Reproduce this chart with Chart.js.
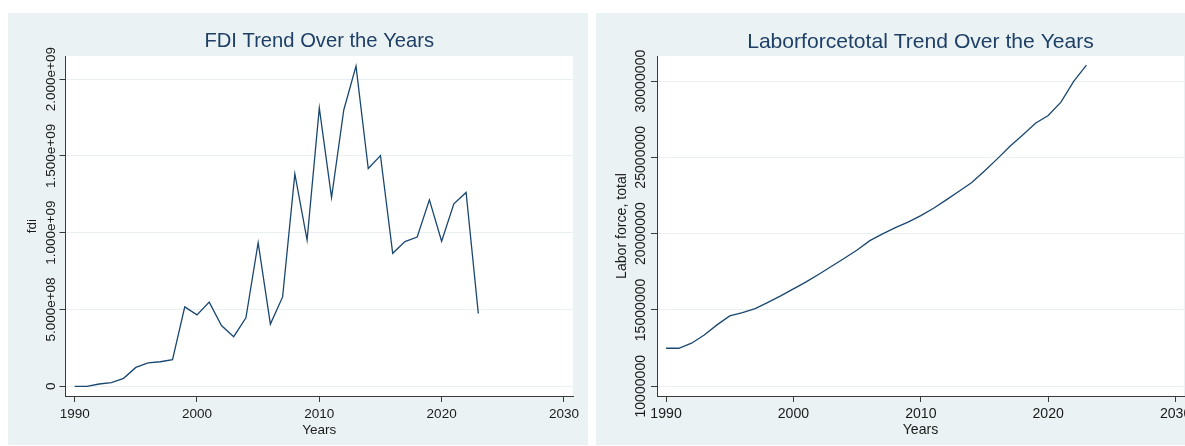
<!DOCTYPE html>
<html>
<head>
<meta charset="utf-8">
<script src="https://cdn.jsdelivr.net/npm/chart.js@4.4.1/dist/chart.umd.min.js"></script>
<style>
html,body{margin:0;padding:0;background:#ffffff;overflow:hidden;width:1185px;height:446px;}
.panel{position:absolute;background:#EAF2F3;}
#p1{left:8px;top:13px;width:580px;height:432px;}
#p2{left:596px;top:13px;width:603px;height:432px;}
canvas{display:block;}
</style>
</head>
<body>
<div class="panel" id="p1"><canvas id="c1" width="580" height="432"></canvas></div>
<div class="panel" id="p2"><canvas id="c2" width="603" height="432"></canvas></div>
<script>
// ---- data ----
const YEARS = [1990,1991,1992,1993,1994,1995,1996,1997,1998,1999,
               2000,2001,2002,2003,2004,2005,2006,2007,2008,2009,
               2010,2011,2012,2013,2014,2015,2016,2017,2018,2019,
               2020,2021,2022,2023];
const FDI = [0, 0, 15000000, 24000000, 52000000, 123000000, 152000000, 160000000, 173000000, 517000000,
             465000000, 548000000, 396000000, 323000000, 446000000, 935000000, 405000000, 582000000, 1383000000, 952000000,
             1812000000, 1229000000, 1799000000, 2084000000, 1418000000, 1502000000, 866000000, 942000000, 972000000, 1214000000,
             944000000, 1188000000, 1262000000, 474000000];
const LABOR = [12490000, 12490000, 12820000, 13360000, 14020000, 14610000, 14820000, 15090000, 15500000, 15920000,
               16380000, 16840000, 17340000, 17860000, 18390000, 18930000, 19540000, 19980000, 20390000, 20750000,
               21180000, 21660000, 22210000, 22780000, 23350000, 24100000, 24900000, 25730000, 26470000, 27240000,
               27740000, 28620000, 29980000, 31040000];
const X_TICKS = [1990, 2000, 2010, 2020, 2030];
const X_TICK_LABELS = ["1990", "2000", "2010", "2020", "2030"];
const FDI_TICKS = [0, 500000000, 1000000000, 1500000000, 2000000000];
const FDI_TICK_LABELS = ["0", "5.000e+08", "1.000e+09", "1.500e+09", "2.000e+09"];
const LABOR_TICKS = [10000000, 15000000, 20000000, 25000000, 30000000];
const LABOR_TICK_LABELS = ["10000000", "15000000", "20000000", "25000000", "30000000"];

const FONT = "'Liberation Sans', Arial, Helvetica, sans-serif";
const LINE_COLOR = '#1A476F';
const AXIS_COLOR = '#3a3a3a';
const GRID_COLOR = '#E8F0F2';
const TEXT_COLOR = '#1a1a1a';
const TITLE_COLOR = '#1E3F66';

function makeChart(canvasId, cfg) {
  const plotBg = {
    id: 'plotBg',
    beforeDraw(chart) {
      const a = chart.chartArea, ctx = chart.ctx;
      ctx.save();
      ctx.fillStyle = '#ffffff';
      ctx.fillRect(a.left, a.top, a.right - a.left, a.bottom - a.top);
      ctx.restore();
    }
  };
  const rotYLabels = {
    id: 'rotYLabels',
    afterDraw(chart) {
      const s = chart.scales.y, ctx = chart.ctx;
      ctx.save();
      ctx.fillStyle = TEXT_COLOR;
      ctx.font = cfg.tickFont + 'px ' + FONT;
      ctx.textAlign = 'center';
      ctx.textBaseline = 'alphabetic';
      cfg.yTicks.forEach((v, i) => {
        const y = s.getPixelForValue(v);
        ctx.save();
        ctx.translate(s.right - cfg.yLabelGap, y);
        ctx.rotate(-Math.PI / 2);
        ctx.fillText(cfg.yTickLabels[i], 0, 0);
        ctx.restore();
      });
      ctx.restore();
    }
  };
  return new Chart(document.getElementById(canvasId), {
    type: 'line',
    data: {
      datasets: [{
        data: YEARS.map((yr, i) => ({x: yr, y: cfg.values[i]})),
        borderColor: LINE_COLOR,
        borderWidth: 1.3,
        pointRadius: 0,
        tension: 0,
        fill: false
      }]
    },
    options: {
      responsive: false,
      animation: false,
      layout: {padding: {left: 0, right: cfg.rightPad, top: 0, bottom: 0}},
      plugins: {
        legend: {display: false},
        tooltip: {enabled: false},
        title: {
          display: true,
          text: cfg.title,
          fullSize: false,
          color: TITLE_COLOR,
          font: {family: FONT, size: cfg.titleFont, weight: 'normal', lineHeight: 1.2},
          padding: {top: cfg.titlePadTop, bottom: cfg.titlePadBottom}
        }
      },
      scales: {
        x: {
          type: 'linear',
          min: cfg.xMin, max: cfg.xMax,
          afterBuildTicks: s => { s.ticks = X_TICKS.map(v => ({value: v})); },
          afterFit: s => { s.height = cfg.xHeight; },
          ticks: {
            autoSkip: false, maxRotation: 0, minRotation: 0,
            color: TEXT_COLOR, padding: cfg.xTickPad,
            font: {family: FONT, size: cfg.tickFont},
            callback: (v) => { const k = X_TICKS.indexOf(v); return k >= 0 ? X_TICK_LABELS[k] : ''; }
          },
          grid: {drawOnChartArea: false, drawTicks: true, tickLength: 6, tickColor: AXIS_COLOR, color: AXIS_COLOR},
          border: {display: true, color: AXIS_COLOR, width: 1},
          title: {
            display: true, text: 'Years', color: TEXT_COLOR,
            font: {family: FONT, size: cfg.tickFont, lineHeight: 1.2},
            padding: {top: 0, bottom: cfg.xTitlePad}
          }
        },
        y: {
          type: 'linear',
          min: cfg.yMin, max: cfg.yMax,
          afterBuildTicks: s => { s.ticks = cfg.yTicks.map(v => ({value: v})); },
          afterFit: s => { s.width = cfg.yWidth; },
          ticks: {display: false},
          grid: {drawOnChartArea: true, drawTicks: true, tickLength: 6, color: GRID_COLOR, tickColor: AXIS_COLOR, lineWidth: 1},
          border: {display: true, color: AXIS_COLOR, width: 1},
          title: {
            display: true, text: cfg.yTitle, color: TEXT_COLOR,
            font: {family: FONT, size: cfg.tickFont, lineHeight: 1.2},
            padding: {top: cfg.yTitlePad, bottom: 0}
          }
        }
      }
    },
    plugins: [plotBg, rotYLabels]
  });
}

makeChart('c1', {
  title: 'FDI Trend Over the Years',
  values: FDI,
  yTitle: 'fdi',
  yTicks: FDI_TICKS, yTickLabels: FDI_TICK_LABELS,
  xMin: 1989.25, xMax: 2030.74,
  yMin: -63000000, yMax: 2150000000,
  rightPad: 15, yWidth: 57.5, xHeight: 49,
  titleFont: 20.2, titlePadTop: 16.6, titlePadBottom: 2.2,
  tickFont: 13.5, xTickPad: 4, xTitlePad: 6.7, yTitlePad: 16.6, yLabelGap: 11
});

makeChart('c2', {
  title: 'Laborforcetotal Trend Over the Years',
  values: LABOR,
  yTitle: 'Labor force, total',
  yTicks: LABOR_TICKS, yTickLabels: LABOR_TICK_LABELS,
  xMin: 1989.29, xMax: 2030.66,
  yMin: 9360000, yMax: 31640000,
  rightPad: 15, yWidth: 61, xHeight: 49,
  titleFont: 21.1, titlePadTop: 16.1, titlePadBottom: 1.6,
  tickFont: 14.1, xTickPad: 4, xTitlePad: 6.3, yTitlePad: 17.5, yLabelGap: 12
});
</script>
</body>
</html>
